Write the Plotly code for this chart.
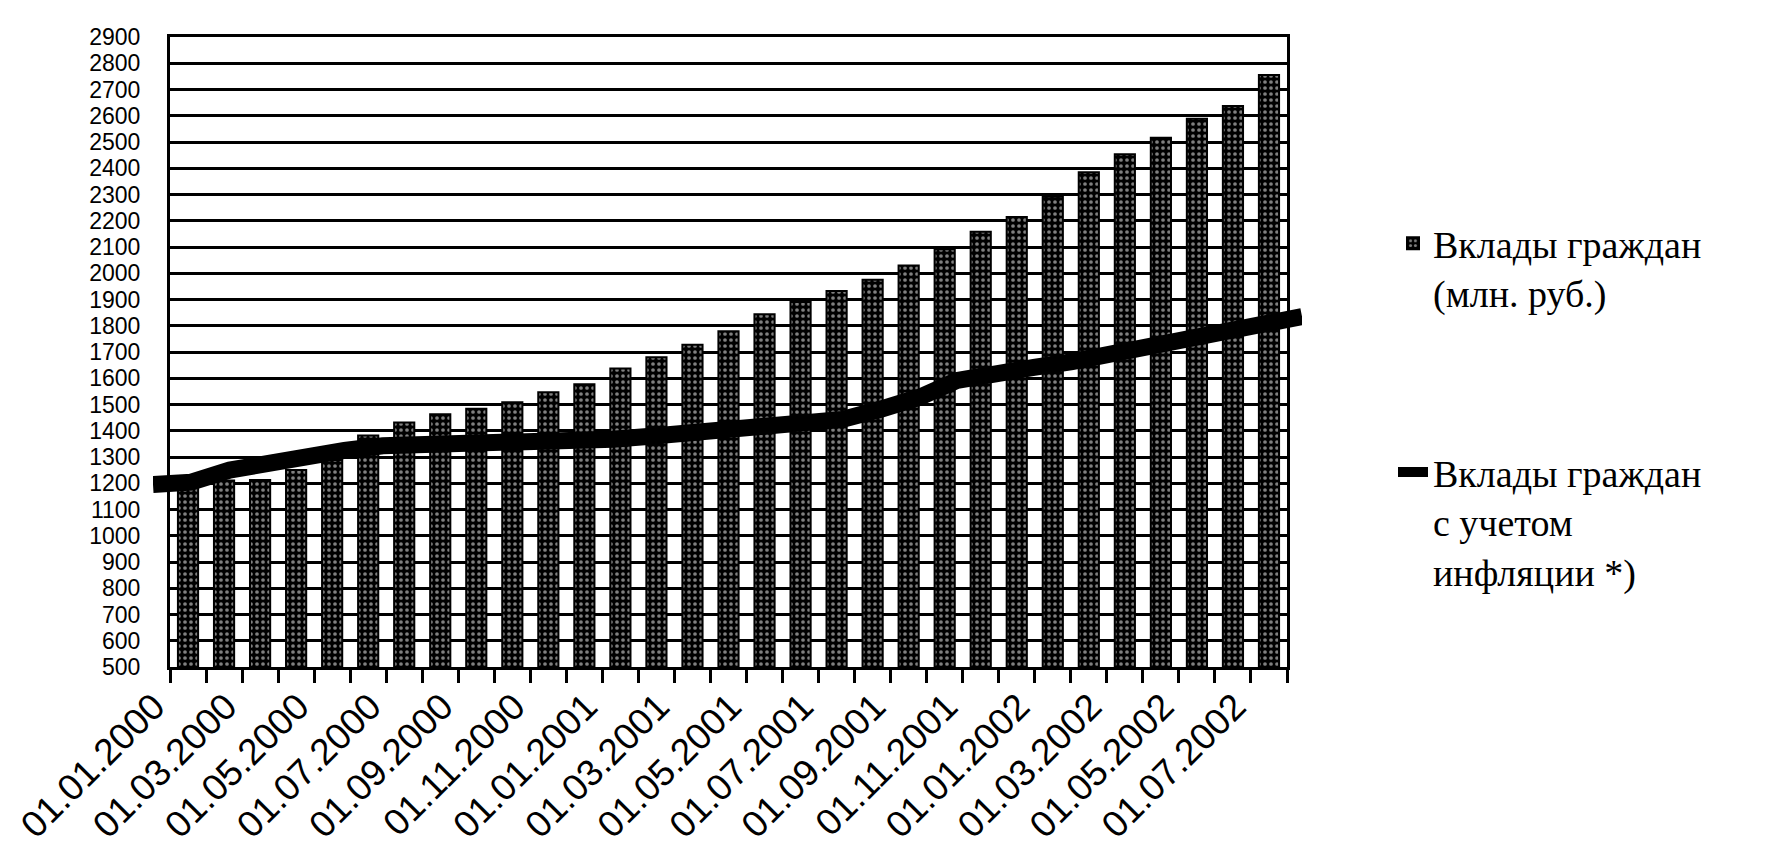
import plotly.graph_objects as go

# ---- data ----
dates = [
    "01.01.2000", "01.02.2000", "01.03.2000", "01.04.2000", "01.05.2000", "01.06.2000",
    "01.07.2000", "01.08.2000", "01.09.2000", "01.10.2000", "01.11.2000", "01.12.2000",
    "01.01.2001", "01.02.2001", "01.03.2001", "01.04.2001", "01.05.2001", "01.06.2001",
    "01.07.2001", "01.08.2001", "01.09.2001", "01.10.2001", "01.11.2001", "01.12.2001",
    "01.01.2002", "01.02.2002", "01.03.2002", "01.04.2002", "01.05.2002", "01.06.2002",
    "01.07.2002",
]
deposits = [
    1190, 1210, 1212, 1250, 1289, 1382, 1431, 1463, 1484, 1509, 1547, 1577,
    1637, 1680, 1728, 1779, 1844, 1890, 1932, 1975, 2030, 2091, 2158, 2214,
    2291, 2385, 2453, 2516, 2589, 2637, 2755,
]
deposits_real = [
    1195, 1204, 1250, 1280, 1303, 1325, 1343, 1346, 1346, 1346, 1347, 1355,
    1368, 1379, 1392, 1410, 1420, 1429, 1443, 1482, 1527, 1592, 1622, 1641,
    1663, 1690, 1717, 1743, 1766, 1805, 1835,
]
y_tick_values = [500, 600, 700, 800, 900, 1000, 1100, 1200, 1300, 1400, 1500, 1600,
                 1700, 1800, 1900, 2000, 2100, 2200, 2300, 2400, 2500, 2600, 2700,
                 2800, 2900]
y_tick_labels = [str(v) for v in y_tick_values]
name_bars = "Вклады граждан<br>(млн. руб.)"
name_line = "Вклады граждан<br>с учетом<br>инфляции *)"

# ---- layout geometry (page pixels; OFF compensates the page body margin) ----
W, H = 1772, 868
OFF = 8
L, R, T, B = 170 - OFF, 1287 - OFF, 37 - OFF, 667 - OFF   # plot area frame
LL, LR = 153 - OFF, 1302 - OFF                           # extent of the line series
LEG_X, LEG_Y = 1393 - OFF, 212 - OFF

idx = list(range(len(dates)))
pts = list(range(len(deposits_real)))

fig = go.Figure()
fig.add_trace(go.Bar(
    x=idx, y=deposits, name=name_bars, legendgroup="a",
    width=0.56,
    marker=dict(
        color="black",
        line=dict(color="black", width=2),
        pattern=dict(shape=".", fgcolor="white", bgcolor="black", size=6, solidity=0.3),
    ),
    xaxis="x", yaxis="y",
))
fig.add_trace(go.Scatter(
    x=pts, y=deposits_real, name=name_line, legendgroup="b",
    mode="lines", line=dict(color="black", width=17),
    xaxis="x2", yaxis="y2",
))

ydom = [1 - B / H, 1 - T / H]
fig.update_layout(
    width=W, height=H,
    margin=dict(l=0, r=0, t=0, b=0),
    paper_bgcolor="white", plot_bgcolor="rgba(0,0,0,0)",
    showlegend=True,
    legend=dict(
        x=LEG_X / W, xanchor="left", y=1 - LEG_Y / H, yanchor="top",
        font=dict(family="Liberation Serif", size=38, color="black"),
        valign="top", traceorder="grouped", tracegroupgap=127,
        bgcolor="rgba(0,0,0,0)",
    ),
    xaxis=dict(
        domain=[L / W, R / W], range=[-0.5, len(dates) - 0.5],
        tickmode="array", tickvals=idx[::2], ticktext=dates[::2],
        tickangle=-45, ticks="", ticklabelshift=-34,
        tickfont=dict(family="Liberation Sans", size=37, color="black"),
        showline=True, mirror=True, linewidth=3, linecolor="black",
        showgrid=False, zeroline=False, automargin=False, anchor="y",
        minor=dict(ticks="outside", tick0=-0.5, dtick=1, ticklen=13,
                   tickwidth=3, tickcolor="black", showgrid=False),
    ),
    yaxis=dict(
        domain=ydom, range=[500, 2900],
        tickmode="array", tickvals=y_tick_values, ticktext=y_tick_labels,
        ticks="", ticklabelstandoff=22,
        tickfont=dict(family="Liberation Sans", size=23, color="black"),
        showgrid=True, gridcolor="black", gridwidth=2.5,
        showline=True, mirror=True, linewidth=3, linecolor="black",
        zeroline=False, automargin=False, anchor="x",
    ),
    xaxis2=dict(domain=[LL / W, LR / W], range=[0, len(deposits_real) - 1],
                visible=False, anchor="y2"),
    yaxis2=dict(domain=ydom, range=[500, 2900], visible=False, anchor="x2"),
)

fig.write_html("out.html")
